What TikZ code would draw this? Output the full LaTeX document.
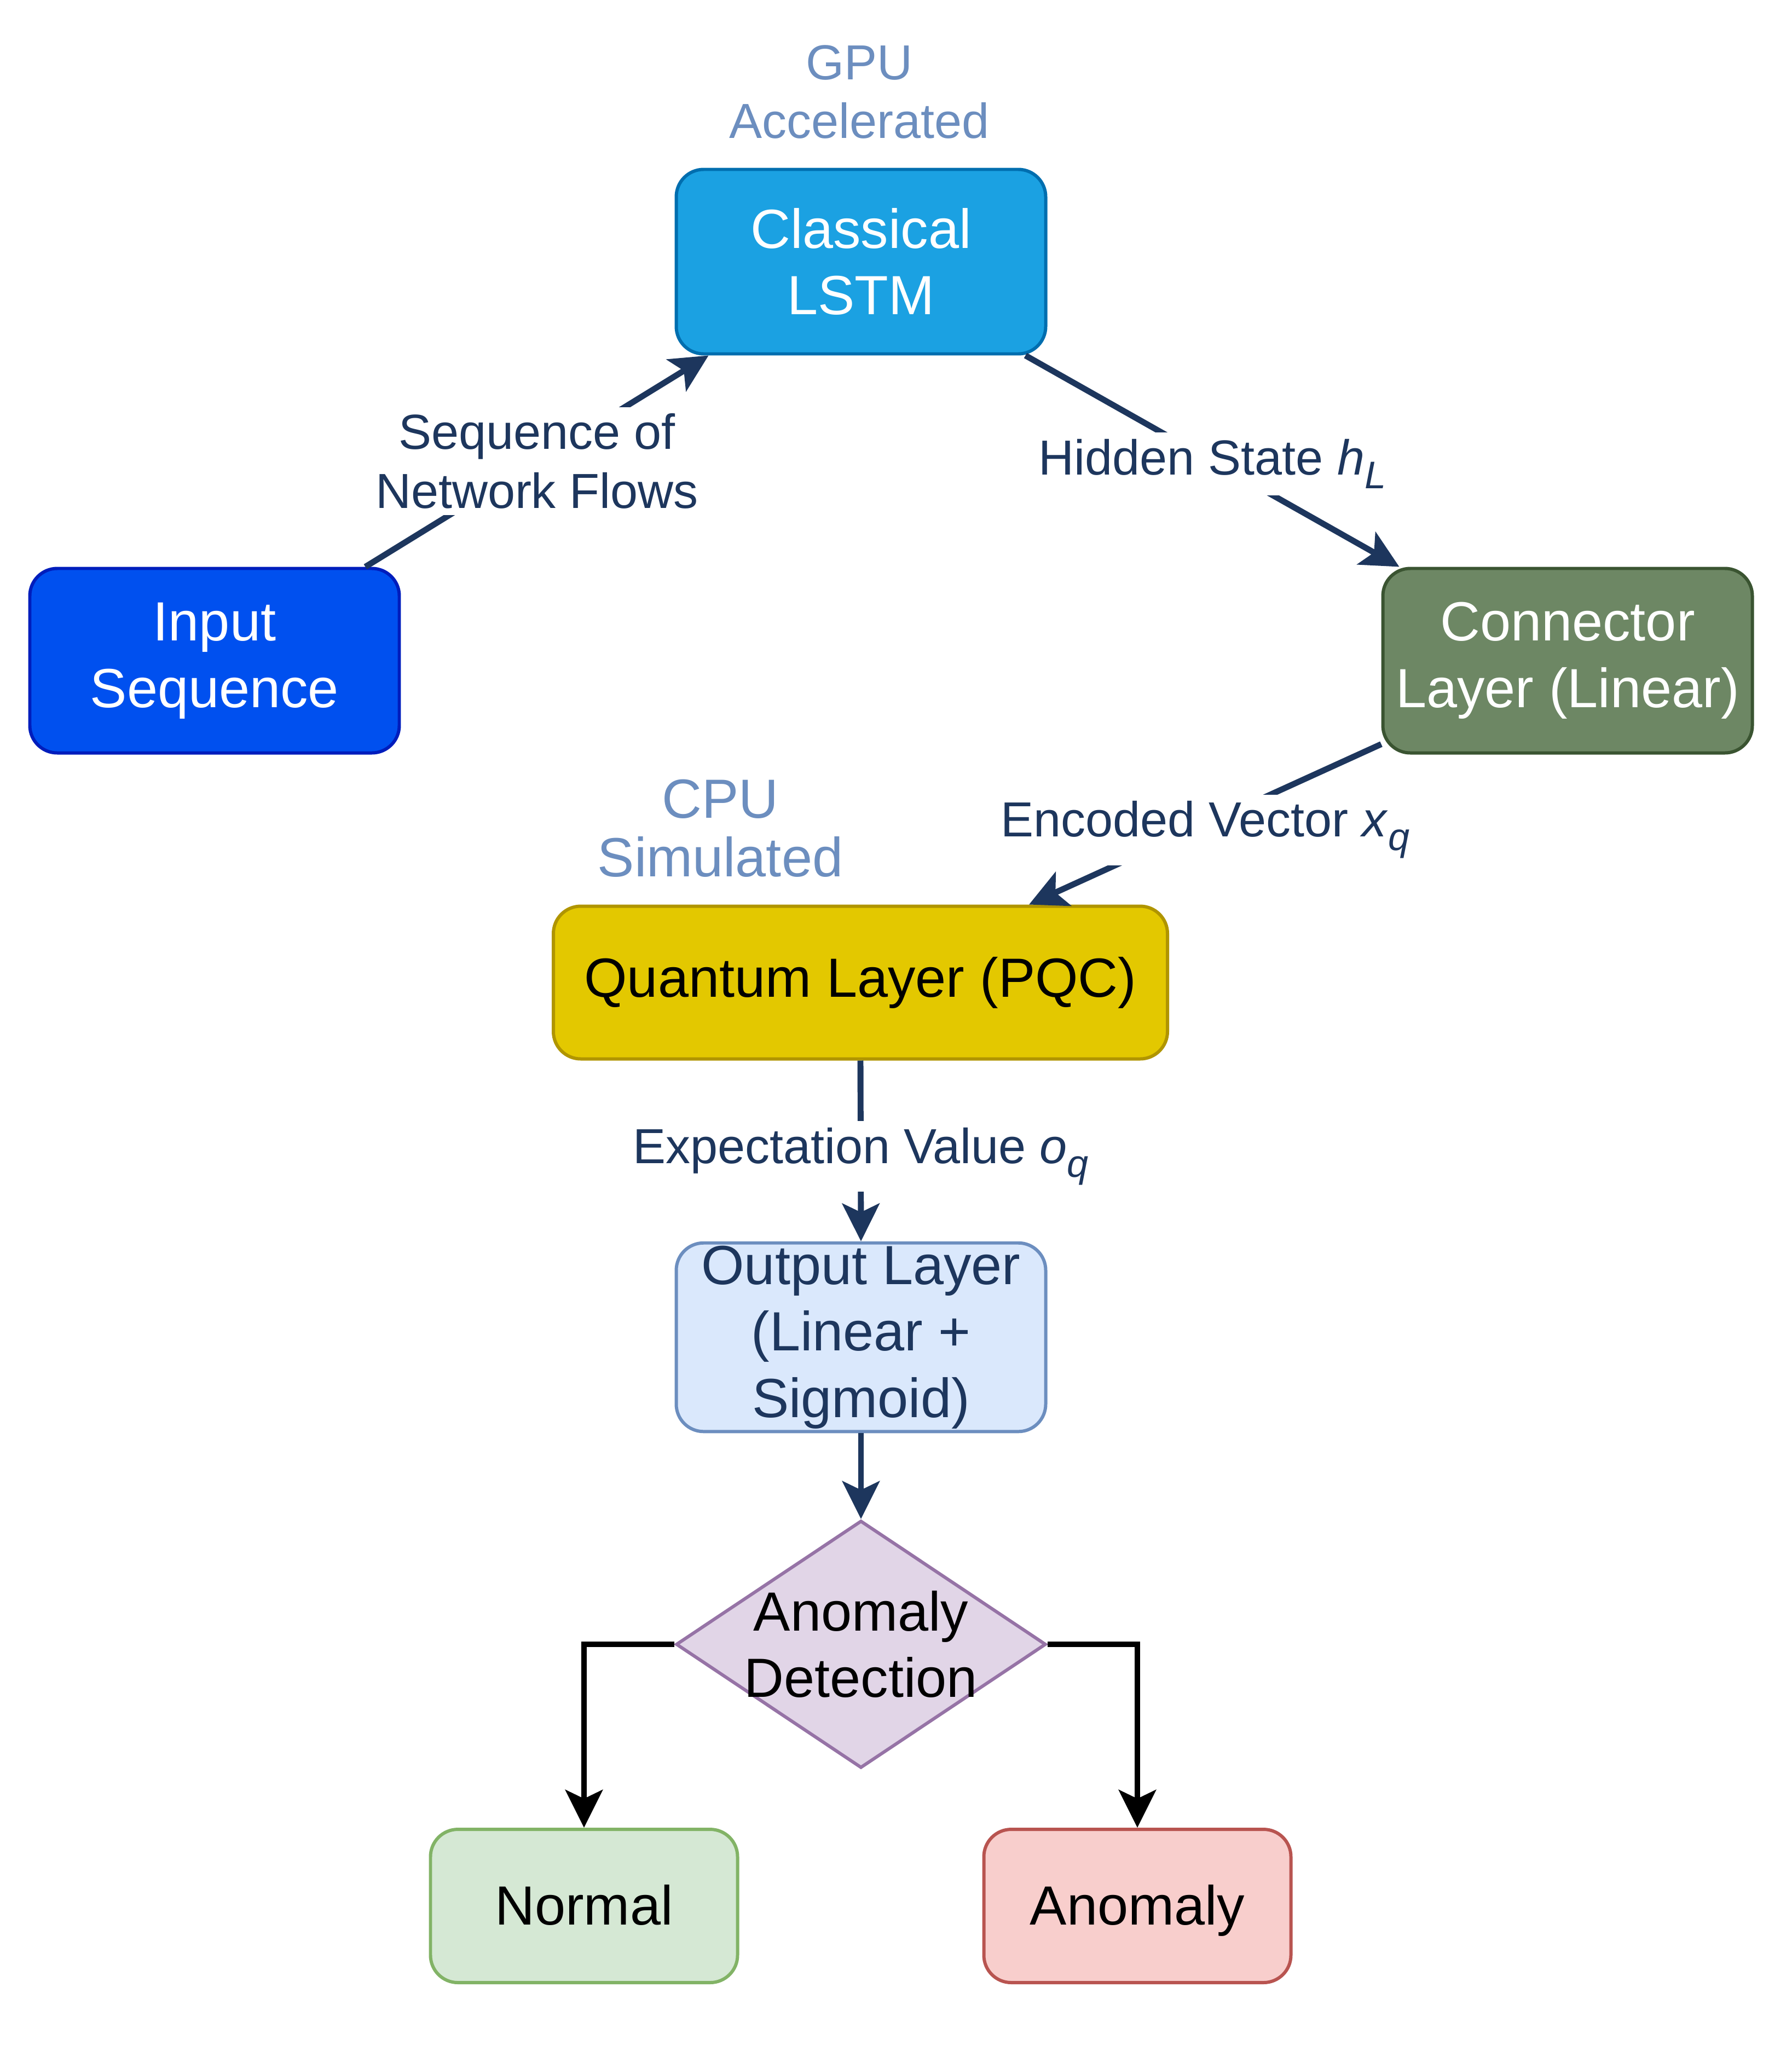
\documentclass[tikz,border=0pt]{standalone}
\usepackage{fontspec}
\setmainfont{Liberation Sans}
\usetikzlibrary{shapes.geometric,arrows.meta,positioning}

\definecolor{navy}{RGB}{29,54,93}
\definecolor{hintblue}{HTML}{6C8EBF}
\newcommand{\lowidx}[1]{\raisebox{-0.28em}{\fontsize{20}{20}\selectfont\textit{#1}}}

\begin{document}
\begin{tikzpicture}[
    blockbox/.style={rectangle, rounded corners=0.5cm, line width=1.7pt, align=center, inner sep=0.05cm,
        minimum width=6.75cm, minimum height=3.37cm, font=\fontsize{28.7}{34.6}\selectfont},
    flow/.style={draw=navy, line width=3.1pt, -{Stealth[length=0.69cm, width=0.68cm, inset=0.16cm]}},
    branch/.style={draw=black, line width=3.1pt, -{Stealth[length=0.69cm, width=0.68cm, inset=0.16cm]}},
    flowlabel/.style={fill=white, text=navy, align=center, inner sep=0.12cm, font=\fontsize{25.6}{30.7}\selectfont},
    hint/.style={text=hintblue, align=center, font=\fontsize{25.6}{30.7}\selectfont}
]
\useasboundingbox (0,0) rectangle (32.73,-37.47);

% processing blocks
\node[blockbox, fill={rgb,255:red,27;green,161;blue,226}, draw={rgb,255:red,0;green,110;blue,175}, text=white] (lstm) at (15.73,-4.78) {Classical\\LSTM};
\node[blockbox, fill={rgb,255:red,0;green,80;blue,239}, draw={rgb,255:red,0;green,29;blue,188}, text=white] (input) at (3.92,-12.07) {Input\\Sequence};
\node[blockbox, fill={rgb,255:red,109;green,135;blue,100}, draw={rgb,255:red,58;green,84;blue,49}, text=white] (connector) at (28.64,-12.07) {Connector\\Layer (Linear)};
\node[blockbox, minimum width=11.22cm, minimum height=2.79cm, fill={rgb,255:red,227;green,200;blue,0}, draw={rgb,255:red,176;green,149;blue,0}, text=black] (quantum) at (15.72,-17.95) {Quantum Layer (PQC)};
\node[blockbox, fill={rgb,255:red,218;green,232;blue,252}, draw=hintblue, text=navy] (output) at (15.73,-24.43) {Output Layer\\(Linear +\\Sigmoid)};
\node[diamond, aspect=1.5, minimum width=6.76cm, minimum height=4.52cm, inner sep=-0.3cm, line width=1.7pt, align=center,
    fill={rgb,255:red,225;green,213;blue,231}, draw={rgb,255:red,150;green,115;blue,166}, font=\fontsize{28.7}{34.6}\selectfont] (detect) at (15.73,-30.04) {Anomaly\\Detection};
\node[blockbox, minimum width=5.61cm, minimum height=2.8cm, text height=0.81cm, text depth=0.13cm, fill={rgb,255:red,213;green,232;blue,212}, draw={rgb,255:red,130;green,179;blue,102}] (normal) at (10.67,-34.82) {Normal};
\node[blockbox, minimum width=5.61cm, minimum height=2.8cm, text height=0.81cm, text depth=0.13cm, fill={rgb,255:red,248;green,206;blue,204}, draw={rgb,255:red,184;green,84;blue,80}] (anomaly) at (20.78,-34.82) {Anomaly};

% hardware notes
\node[hint] (gpu) at (15.70,-1.68) {GPU\\Accelerated};
\node[hint, font=\fontsize{28.7}{30.5}\selectfont] (cpu) at (13.16,-15.13) {CPU\\Simulated};

% data flow
\draw[flow] ([xshift=-0.65cm]input.north east) -- ([xshift=0.62cm]lstm.south west)
    node[flowlabel, midway] {Sequence of\\Network Flows};
\draw[flow] ([xshift=-0.4cm]lstm.south east) -- ([xshift=0.33cm]connector.north west)
    node[flowlabel, midway, yshift=-0.05cm] {Hidden State \textit{h}\lowidx{L}};
\draw[flow] ([yshift=0.19cm]connector.south west) -- ([xshift=3.08cm]quantum.north)
    node[flowlabel, midway, yshift=-0.1cm] {Encoded Vector \textit{x}\lowidx{q}};
\draw[flow] (quantum.south) -- (output.north)
    node[flowlabel, midway, yshift=-0.1cm] {Expectation Value \textit{o}\lowidx{q}};
\draw[flow] (output.south) -- (detect.north);

% decision
\draw[branch] (detect.west) -| (normal.north);
\draw[branch] (detect.east) -| (anomaly.north);

\end{tikzpicture}
\end{document}
